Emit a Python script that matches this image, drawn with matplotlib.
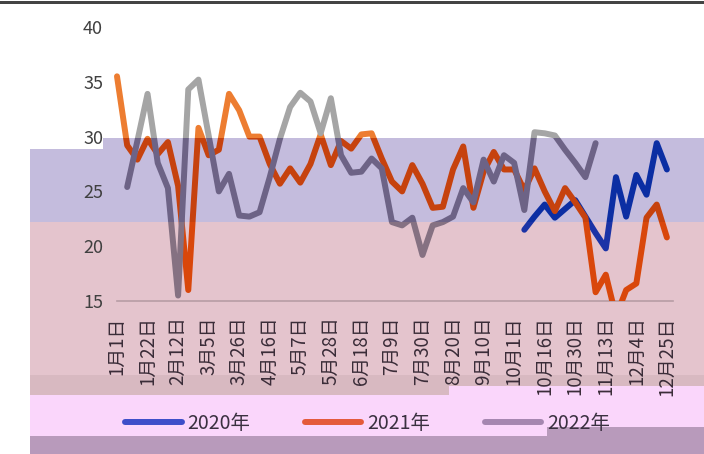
import numpy as np
import matplotlib

matplotlib.use("Agg")
import matplotlib.pyplot as plt
from matplotlib.patches import Rectangle
from matplotlib.lines import Line2D

plt.rcParams["font.family"] = ["Noto Sans CJK SC", "DejaVu Sans"]

W, H = 704, 454
nan = np.nan

tick_labels = ["1月1日", "1月22日", "2月12日", "3月5日", "3月26日", "4月16日",
               "5月7日", "5月28日", "6月18日", "7月9日", "7月30日", "8月20日",
               "9月10日", "10月1日", "10月16日", "10月30日", "11月13日",
               "12月4日", "12月25日"]
series_names = ["2020年", "2021年", "2022年"]

y2020 = [nan] * 40 + [21.5, 22.7, 23.8, 22.6, 23.4, 24.2, 22.7, 21.2, 19.8,
                      26.3, 22.7, 26.5, 24.7, 29.4, 27.0]
y2021 = [35.5, 29.2, 27.9, 29.8, 28.4, 29.5, 25.5, 16.0, 30.8, 28.3,
         28.8, 33.9, 32.4, 30.0, 30.0, 27.5, 25.7, 27.1, 25.8, 27.5,
         30.2, 27.4, 29.6, 28.9, 30.2, 30.3, 28.0, 25.9, 25.0, 27.4,
         25.7, 23.5, 23.6, 27.0, 29.1, 23.5, 26.8, 28.6, 27.0, 27.0,
         25.1, 27.1, 25.0, 23.2, 25.3, 24.0, 22.6, 15.8, 17.4, 13.6,
         16.0, 16.6, 22.6, 23.8, 20.8]
y2022 = [nan, 25.4, 29.6, 33.9, 27.6, 25.3, 15.5, 34.3, 35.2, 30.1,
         25.0, 26.6, 22.8, 22.7, 23.1, 26.3, 29.8, 32.7, 34.0, 33.2,
         30.3, 33.5, 28.3, 26.7, 26.8, 28.0, 27.1, 22.2, 21.9, 22.6,
         19.2, 21.9, 22.2, 22.7, 25.3, 24.0, 27.9, 25.9, 28.3, 27.6,
         23.3, 30.4, 30.3, 30.1, 28.8, 27.6, 26.3, 29.4] + [nan] * 7

# line colours as they look over white / purple band / pink band
colors_white = ["#4472C4", "#ED7D31", "#A5A5A5"]
colors_purple = ["#0B2EA3", "#C6420E", "#6D6386"]
colors_pink = ["#1B33A6", "#D9470B", "#857182"]
legend_colors = ["#3D4DC9", "#E45A3A", "#A586B0"]


def px_rect(x0, y0, x1, y1, **kw):
    # rectangle given in pixel coords measured from the top-left corner
    return Rectangle((x0 / W, 1 - y1 / H), (x1 - x0) / W, (y1 - y0) / H,
                     transform=fig.transFigure, **kw)


fig = plt.figure(figsize=(W / 100, H / 100), dpi=100)
fig.patch.set_facecolor("white")

bands = [
    ((30, 149, 704, 222), "#C4BCDD"),
    ((103, 138, 704, 149), "#C4BCDD"),
    ((30, 222, 704, 375), "#E4C4CD"),
    ((30, 375, 449, 395), "#D8B9C1"),
    ((449, 375, 704, 386), "#D8B9C1"),
    ((30, 395, 449, 436), "#FAD6FB"),
    ((449, 386, 547, 436), "#FAD6FB"),
    ((547, 386, 704, 427), "#FAD6FB"),
    ((30, 436, 547, 454), "#B89ABB"),
    ((547, 427, 704, 454), "#B89ABB"),
    ((0, 1.5, 704, 3.5), "#444444"),
]
for (x0, y0, x1, y1), c in bands:
    fig.add_artist(px_rect(x0, y0, x1, y1, facecolor=c, edgecolor="none", zorder=-5))

ax = fig.add_axes([117 / W, 153 / H, 556 / W, 274 / H])
ax.patch.set_alpha(0)

x = np.arange(len(y2021))
regions = [((0, 0, W, 138), colors_white),
           ((0, 138, W, 222), colors_purple),
           ((0, 222, W, 301), colors_pink)]
for (x0, y0, x1, y1), cols in regions:
    clip = px_rect(x0, y0, x1, y1)
    for vals, c in zip([y2020, y2021, y2022], cols):
        ln, = ax.plot(x, vals, color=c, lw=4.3, solid_capstyle="round",
                      solid_joinstyle="round", zorder=3)
        ln.set_clip_path(clip)

ax.set_xlim(0, 54.6)
ax.set_ylim(15, 40)
ax.set_yticks([15, 20, 25, 30, 35, 40])
ax.set_xticks(np.arange(0, len(x), 3))
ax.set_xticklabels(tick_labels, rotation=90)
ax.tick_params(axis="y", length=0, pad=10, labelsize=13, labelcolor="#404040")
ax.tick_params(axis="x", length=0, pad=11, labelsize=13.5, labelcolor="#3a2c38")
for s in ["left", "right", "top"]:
    ax.spines[s].set_visible(False)
ax.spines["bottom"].set_color("#B79DA5")
ax.spines["bottom"].set_linewidth(1.2)

handles = [Line2D([], [], color=c, lw=4.3, solid_capstyle="round") for c in legend_colors]
leg = fig.legend(handles, series_names, loc="center", bbox_to_anchor=(0.522, 0.068),
                 ncol=3, frameon=False, fontsize=14, handlelength=2.9,
                 handletextpad=0.3, columnspacing=2.8)
for t in leg.get_texts():
    t.set_color("#3a3040")

fig.savefig("out.png", dpi=100)
